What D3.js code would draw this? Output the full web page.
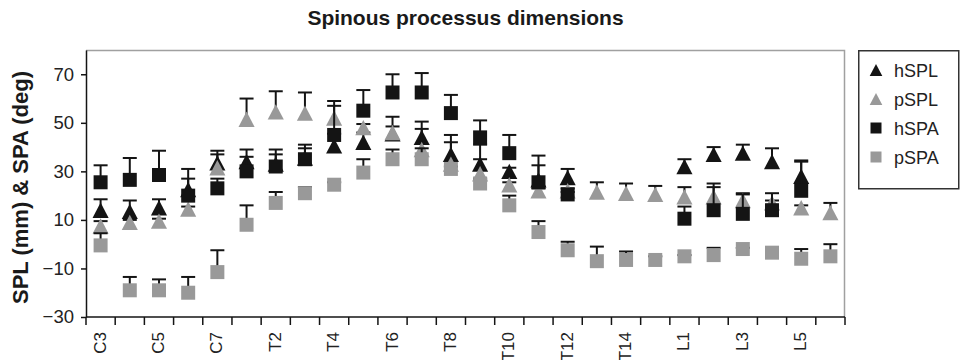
<!DOCTYPE html>
<html>
<head>
<meta charset="utf-8">
<script src="https://cdnjs.cloudflare.com/ajax/libs/d3/7.8.5/d3.min.js"></script>
<style>
  body { margin: 0; background: #fff; }
  svg { display: block; font-family: "Liberation Sans", Arial, sans-serif; }
</style>
</head>
<body>
<script>

// vertebral levels on the x axis
var categories = ["C3","C4","C5","C6","C7",
                  "T1","T2","T3","T4","T5","T6","T7","T8","T9","T10","T11","T12","T13","T14","T15",
                  "L1","L2","L3","L4","L5","L6"];

// series values (null = no vertebra) and the plus error bars
var hSPL    = [14, 13.5, 15, 22.5, 33.5, 34, 33, 35.5, 40.5, 42, 45.5, 44, 37, 33, 30, 26.5, 27.5, null, null, null, 32, 37, 37.5, 34, 28, null];
var hSPLerr = [4.5, 4.5, 3.5, 8.5, 5, 5, 6, 4, 5, 4, 3, 6.5, 8, 8, 1.5, 6, 3.5, null, null, null, 3, 3, 3.5, 5.5, 6.5, null];
var pSPL    = [7.5, 9, 9.5, 14.5, 31.5, 51.5, 54.5, 54, 52, 48, 46, 39, 33, 29, 24.5, 22, 22, 21.5, 21, 20.5, 19.5, 19.5, 18, 17, 15, 13];
var pSPLerr = [2, 1, 1, 1, 5.5, 8.5, 8.5, 8.5, 7, 1.5, 6.5, 8.5, 9, 6, 1, 1, 1, 4, 4, 3.5, 4, 4, 3, 1, 1, 4];
var hSPA    = [25.5, 26.5, 28.5, 20, 23, 30, 32, 35, 45, 55, 62.5, 62.5, 54, 44, 37.5, 25.5, 20.5, null, null, null, 10.5, 14, 12.5, 14, 22, null];
var hSPAerr = [7, 9, 10, 7, 4, 6, 5, 6, 12, 8.5, 7.5, 8, 7.5, 7, 7.5, 11, 1, null, null, null, 5, 11, 8, 7, 12, null];
var pSPA    = [-0.5, -19, -19, -20, -11.5, 8, 17, 21, 24.5, 29.5, 35, 35, 31, 25, 16, 5, -2.5, -7, -6.5, -6.5, -5, -4.5, -2, -3.5, -6, -5];
var pSPAerr = [5, 5.5, 4.5, 6.5, 9, 8, 4.5, 2.5, 1, 5.5, 4, 4.5, 1, 2, 4, 4.5, 3.5, 6, 3.5, 1.5, 0.5, 3, 0.5, 0.5, 4, 5];

var yTicks = [-30, -10, 10, 30, 50, 70];

var black = '#141414';
var grey = '#999999';

// drawing order matters: grey triangles sit on black ones, black squares on triangles
var series = [
  {name: 'hSPL', values: hSPL, err: hSPLerr, shape: 'triangle', color: black},
  {name: 'pSPL', values: pSPL, err: pSPLerr, shape: 'triangle', color: grey},
  {name: 'hSPA', values: hSPA, err: hSPAerr, shape: 'square', color: black},
  {name: 'pSPA', values: pSPA, err: pSPAerr, shape: 'square', color: grey}
];

// plot area
var margin = {top: 50, right: 117, bottom: 43, left: 86};
var W = 962, H = 360;
var w = W - margin.left - margin.right;
var h = H - margin.top - margin.bottom;

var svg = d3.select('body').append('svg')
            .attr('width', W)
            .attr('height', H);

var xScale = d3.scaleBand().domain(categories).range([0, w]).padding(0);
var yScale = d3.scaleLinear().domain([-30, 80]).range([h, 0]);

var plot = svg.append('g')
              .attr('transform', 'translate(' + margin.left + ',' + margin.top + ')');

// grey frame on top and right
plot.append('path')
    .attr('d', 'M0,0.5H' + (w - 0.5) + 'V' + h)
    .attr('fill', 'none')
    .attr('stroke', '#a0a0a0')
    .attr('stroke-width', 1.5);

// y axis
var yAxis = d3.axisLeft(yScale)
              .tickValues(yTicks)
              .tickSize(5)
              .tickSizeOuter(0)
              .tickPadding(7);
var gY = plot.append('g').call(yAxis);
gY.select('.domain').attr('stroke', black).attr('stroke-width', 1.5);
gY.selectAll('.tick line').attr('stroke', black).attr('stroke-width', 1.5);
gY.selectAll('.tick text')
  .attr('font-size', 18.5)
  .attr('fill', '#222')
  .attr('font-family', '"Liberation Sans", Arial, sans-serif');

// x axis: line, ticks at band edges, every other label
var xEdges = categories.map(function(c) { return xScale(c); }).concat([w]);
plot.append('line')
    .attr('x1', 0).attr('x2', w)
    .attr('y1', h).attr('y2', h)
    .attr('stroke', black)
    .attr('stroke-width', 1.5);
plot.selectAll('.xtick')
    .data(xEdges)
    .enter().append('line')
    .attr('class', 'xtick')
    .attr('x1', function(d) { return d; })
    .attr('x2', function(d) { return d; })
    .attr('y1', h)
    .attr('y2', h + 8)
    .attr('stroke', black)
    .attr('stroke-width', 1.5);
plot.selectAll('.xlabel')
    .data(categories.filter(function(c, i) { return i % 2 === 0; }))
    .enter().append('text')
    .attr('class', 'xlabel')
    .attr('text-anchor', 'end')
    .attr('font-size', 17)
    .attr('fill', '#222')
    .attr('transform', function(d) {
      return 'translate(' + (xScale(d) + xScale.bandwidth() / 2 + 5) + ',' + (h + 15) + ')rotate(-90)';
    })
    .text(function(d) { return d; });

// marker shapes
function markerPath(shape, s) {
  if (shape === 'triangle') {
    var tw = s * 1.15, th = s * 1.1;
    return 'M0,' + (-th / 2) + 'L' + (tw / 2) + ',' + (th / 2) + 'L' + (-tw / 2) + ',' + (th / 2) + 'Z';
  }
  return 'M' + (-s / 2) + ',' + (-s / 2) + 'h' + s + 'v' + s + 'h' + (-s) + 'Z';
}

var capW = 14;

series.forEach(function(s) {
  var pts = categories.map(function(c, i) {
    return {cat: c, v: s.values[i], e: s.err[i]};
  }).filter(function(d) { return d.v !== null; });

  var g = plot.append('g').attr('class', 'series-' + s.name);

  // plus-only error bars
  var eb = g.selectAll('.err')
            .data(pts)
            .enter().append('g')
            .attr('class', 'err')
            .attr('transform', function(d) {
              return 'translate(' + (xScale(d.cat) + xScale.bandwidth() / 2) + ',0)';
            });
  eb.append('line')
    .attr('x1', 0).attr('x2', 0)
    .attr('y1', function(d) { return yScale(d.v); })
    .attr('y2', function(d) { return yScale(d.v + d.e); })
    .attr('stroke', black)
    .attr('stroke-width', 2);
  eb.append('line')
    .attr('x1', -capW / 2).attr('x2', capW / 2)
    .attr('y1', function(d) { return yScale(d.v + d.e); })
    .attr('y2', function(d) { return yScale(d.v + d.e); })
    .attr('stroke', black)
    .attr('stroke-width', 2);

  // markers
  g.selectAll('.mark')
   .data(pts)
   .enter().append('path')
   .attr('class', 'mark')
   .attr('d', markerPath(s.shape, 14))
   .attr('transform', function(d) {
     return 'translate(' + (xScale(d.cat) + xScale.bandwidth() / 2) + ',' + yScale(d.v) + ')';
   })
   .attr('fill', s.color);
});

// title
svg.append('text')
   .attr('x', margin.left + w / 2)
   .attr('y', 25)
   .attr('text-anchor', 'middle')
   .attr('font-size', 21)
   .attr('font-weight', 'bold')
   .attr('fill', '#1a1a1a')
   .text('Spinous processus dimensions');

// y axis title
svg.append('text')
   .attr('text-anchor', 'middle')
   .attr('font-size', 22)
   .attr('font-weight', 'bold')
   .attr('fill', '#1a1a1a')
   .attr('transform', 'translate(28,' + (margin.top + h / 2 + 4) + ')rotate(-90)')
   .text('SPL (mm) & SPA (deg)');

// legend
var legend = svg.append('g').attr('transform', 'translate(858,50)');
legend.append('rect')
      .attr('x', 0.75).attr('y', 0.75)
      .attr('width', 100).attr('height', 138)
      .attr('fill', '#fff')
      .attr('stroke', '#333')
      .attr('stroke-width', 1.5);
var items = legend.selectAll('.item')
                  .data(series)
                  .enter().append('g')
                  .attr('class', 'item')
                  .attr('transform', function(d, i) { return 'translate(0,' + (20 + i * 29) + ')'; });
items.append('path')
     .attr('d', function(d) { return markerPath(d.shape, 11); })
     .attr('transform', 'translate(18,0)')
     .attr('fill', function(d) { return d.color; });
items.append('text')
     .attr('x', 36)
     .attr('y', 6.5)
     .attr('font-size', 18)
     .attr('fill', '#222')
     .text(function(d) { return d.name; });

</script>
</body>
</html>
